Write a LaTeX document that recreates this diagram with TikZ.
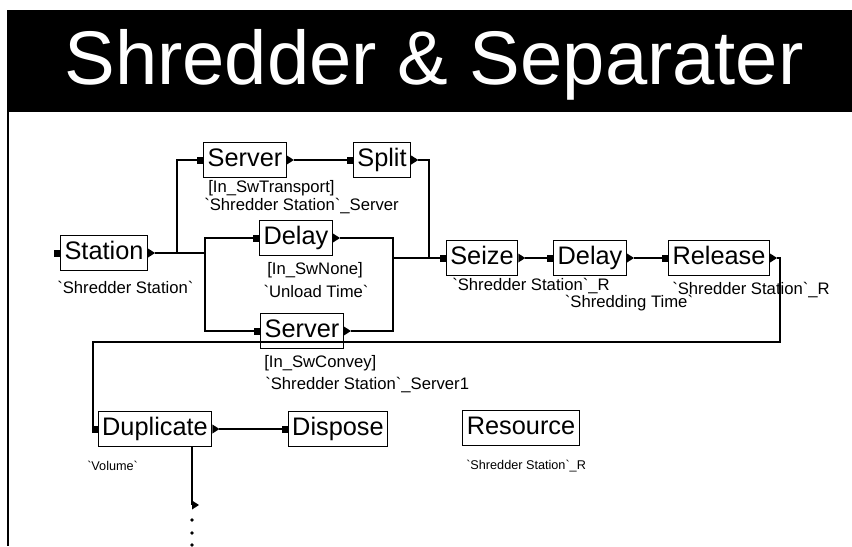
\documentclass[tikz,border=0pt]{standalone}
\usepackage{fontspec}
\setmainfont{Liberation Sans}
\usetikzlibrary{calc}
\newcommand{\bq}{\textasciigrave}
\newcommand{\inport}[1]
{   \fill ($(#1.west)+(-6,-3.5)$) rectangle ($(#1.west)+(0,3.5)$);
    \coordinate (#1in) at ($(#1.west)+(-6,0)$);
}
\newcommand{\outport}[1]
{   \fill ($(#1.east)+(0,-4.5)$) -- ($(#1.east)+(7,0)$) -- ($(#1.east)+(0,4.5)$) -- cycle;
    \coordinate (#1out) at ($(#1.east)+(7,0)$);
}

\begin{document}
\begin{tikzpicture}[x=0.75pt, y=-0.75pt,
    module/.style={draw, line width=0.9pt, inner xsep=3pt, inner ysep=4pt, text height=14pt, text depth=4pt, font=\fontsize{19}{21}\selectfont},
    tag/.style={inner sep=0pt, font=\fontsize{12.5}{14}\selectfont},
    smalltag/.style={inner sep=0pt, font=\fontsize{9.5}{11}\selectfont},
    wire/.style={line width=0.8pt}]
          \useasboundingbox (0,0) rectangle (852,546);
          \fill (7,10) rectangle (852,112);
          \node[text=white, anchor=base, font=\fontsize{57}{64}\selectfont] (title) at (434,84) {Shredder \& Separater};
          \draw[line width=1.1pt] (8,112) -- (8,546);

          \node[module] (st) at (104,253) {Station};
          \node[module] (srvT) at (245,160) {Server};
          \node[module] (split) at (382,160) {Split};
          \node[module] (dlyA) at (296,238) {Delay};
          \node[module] (srvB) at (302,331) {Server};
          \node[module] (seize) at (482,258) {Seize};
          \node[module] (dlyB) at (590,258) {Delay};
          \node[module] (rel) at (719,258) {Release};
          \node[module] (dup) at (155,429) {Duplicate};
          \node[module] (disp) at (338,429) {Dispose};
          \node[module] (res) at (521,428) {Resource};

          \inport{st} \outport{st}
          \inport{srvT} \outport{srvT}
          \inport{split} \outport{split}
          \inport{dlyA} \outport{dlyA}
          \inport{srvB} \outport{srvB}
          \inport{seize} \outport{seize}
          \inport{dlyB} \outport{dlyB}
          \inport{rel} \outport{rel}
          \inport{dup} \outport{dup}
          \inport{disp}

          \node[tag, anchor=west] (stlab) at (57,287) {\bq Shredder Station\bq};
          \node[tag, anchor=west] (srvTlabA) at (208,188) {[In\_SwTransport]};
          \node[tag, anchor=west] (srvTlabB) at (204,206) {\bq Shredder Station\bq\_Server};
          \node[tag] (dlyAlabA) at (315,270) {[In\_SwNone]};
          \node[tag] (dlyAlabB) at (316,291) {\bq Unload Time\bq};
          \node[tag, anchor=west] (srvBlabA) at (264,363) {[In\_SwConvey]};
          \node[tag, anchor=west] (srvBlabB) at (265,385) {\bq Shredder Station\bq\_Server1};
          \node[tag, anchor=west] (seizelab) at (452,286) {\bq Shredder Station\bq\_R};
          \node[tag] (dlyBlab) at (629,303) {\bq Shredding Time\bq};
          \node[tag, anchor=west] (rellab) at (672,290) {\bq Shredder Station\bq\_R};
          \node[smalltag, anchor=west] (duplab) at (87,466) {\bq Volume\bq};
          \node[smalltag, anchor=west] (reslab) at (466,466) {\bq Shredder Station\bq\_R};

          \coordinate (jA) at (177,253);
          \coordinate (jS) at (205,253);
          \coordinate (jB) at (393,258);
          \coordinate (jC) at (429,258);
          \coordinate (jR) at (780,342);
          \coordinate (jL) at (93,342);
          \coordinate (dupaux) at (192,505);

          \draw[wire] (stout) -- (jA) |- (srvTin);
          \draw[wire] (jA) -- (jS) |- (dlyAin);
          \draw[wire] (jS) |- (srvBin);
          \draw[wire] (srvTout) -- (splitin);
          \draw[wire] (splitout) -| (jC) -- (seizein);
          \draw[wire] (dlyAout) -| (jB);
          \draw[wire] (srvBout) -| (jB) -- (jC);
          \draw[wire] (seizeout) -- (dlyBin);
          \draw[wire] (dlyBout) -- (relin);
          \draw[wire] (relout) -| (jR) -- (jL) |- (dupin);
          \draw[wire] (dupout) -- (dispin);
          \draw[wire] (dup.south -| dupaux) -- (dupaux);
          \fill ($(dupaux)+(0,-4.5)$) -- ($(dupaux)+(7,0)$) -- ($(dupaux)+(0,4.5)$) -- cycle;
          \foreach \y in {520,533,545}
          {   \fill (192,\y) circle (1.8);
          }
        \end{tikzpicture}
\end{document}
